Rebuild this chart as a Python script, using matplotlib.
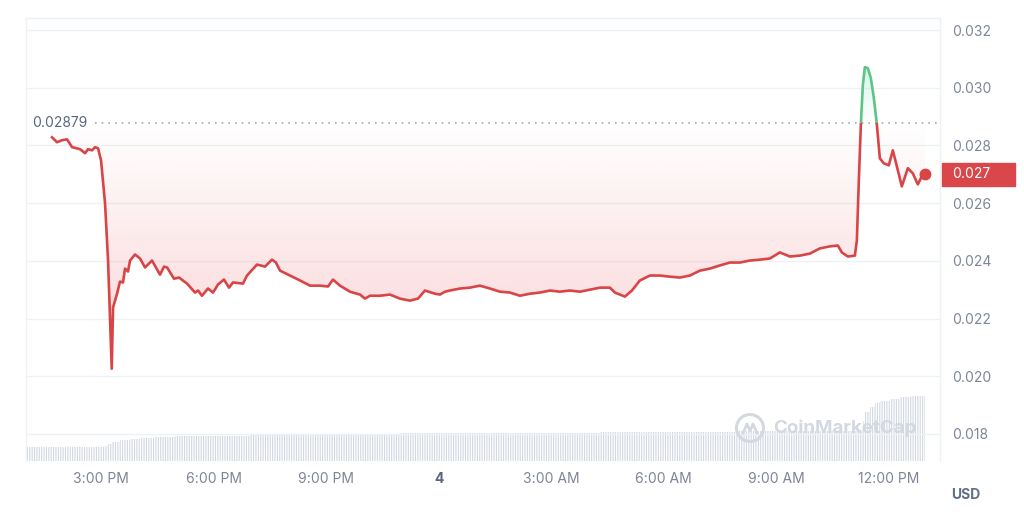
import numpy as np
import matplotlib
matplotlib.use("Agg")
import matplotlib.pyplot as plt
from matplotlib.path import Path
from matplotlib.patches import Rectangle, Ellipse
from matplotlib.lines import Line2D
import matplotlib.transforms as mtransforms

plt.rcParams['font.family'] = ['Inter', 'DejaVu Sans']
plt.rcParams['hatch.linewidth'] = 0.8

# ---- data (hours since 12:00 PM of day 3) ----
hours = [1.694, 1.828, 1.961, 2.094, 2.227, 2.440, 2.574, 2.654, 2.760, 2.840, 2.920,
         3.000, 3.107, 3.187, 3.240, 3.285, 3.320, 3.426, 3.506, 3.586, 3.639, 3.719,
         3.773, 3.906, 4.039, 4.172, 4.359, 4.572, 4.679, 4.759, 4.945, 5.078, 5.292,
         5.505, 5.585, 5.691, 5.851, 5.984, 6.118, 6.277, 6.411, 6.517, 6.784, 6.890,
         7.157, 7.370, 7.556, 7.663, 7.770, 8.036, 8.302, 8.569, 8.835, 9.049, 9.182,
         9.368, 9.635, 9.901, 10.034, 10.168, 10.434, 10.700, 10.967, 11.233, 11.447,
         11.633, 11.900, 12.033, 12.166, 12.299, 12.566, 12.832, 13.099, 13.365, 13.632,
         13.898, 14.164, 14.431, 14.697, 14.964, 15.230, 15.497, 15.763, 16.030, 16.296,
         16.562, 16.696, 16.962, 17.149, 17.362, 17.628, 17.895, 18.161, 18.428, 18.694,
         18.961, 19.227, 19.494, 19.760, 20.027, 20.293, 20.559, 20.826, 21.092, 21.359,
         21.625, 21.892, 22.158, 22.424, 22.638, 22.744, 22.904, 23.091, 23.144, 23.197,
         23.251, 23.304, 23.357, 23.437, 23.517, 23.597, 23.677, 23.757, 23.863, 23.996,
         24.103, 24.237, 24.343, 24.503, 24.636, 24.770, 24.876, 24.956]
prices = [0.02828, 0.02811, 0.02818, 0.02821, 0.02794, 0.02787, 0.02773, 0.02787, 0.02783,
          0.02794, 0.02790, 0.02748, 0.02599, 0.02401, 0.02193, 0.02026, 0.02238, 0.02286,
          0.02328, 0.02325, 0.02373, 0.02363, 0.02401, 0.02422, 0.02408, 0.02377, 0.02401,
          0.02352, 0.02380, 0.02377, 0.02338, 0.02342, 0.02321, 0.02290, 0.02297, 0.02279,
          0.02304, 0.02290, 0.02318, 0.02335, 0.02307, 0.02325, 0.02321, 0.02349, 0.02387,
          0.02380, 0.02404, 0.02394, 0.02366, 0.02349, 0.02332, 0.02314, 0.02314, 0.02311,
          0.02335, 0.02314, 0.02293, 0.02283, 0.02269, 0.02279, 0.02279, 0.02283, 0.02269,
          0.02262, 0.02269, 0.02297, 0.02286, 0.02283, 0.02293, 0.02297, 0.02304, 0.02307,
          0.02314, 0.02304, 0.02293, 0.02290, 0.02279, 0.02286, 0.02290, 0.02297, 0.02293,
          0.02297, 0.02293, 0.02300, 0.02307, 0.02307, 0.02290, 0.02276, 0.02297, 0.02332,
          0.02349, 0.02349, 0.02345, 0.02342, 0.02349, 0.02366, 0.02373, 0.02384, 0.02394,
          0.02394, 0.02401, 0.02404, 0.02408, 0.02429, 0.02415, 0.02418, 0.02425, 0.02443,
          0.02450, 0.02453, 0.02429, 0.02415, 0.02418, 0.02470, 0.02679, 0.02873, 0.03009,
          0.03071, 0.03068, 0.03033, 0.02964, 0.02873, 0.02755, 0.02738, 0.02731, 0.02783,
          0.02714, 0.02658, 0.02721, 0.02703, 0.02665, 0.02693, 0.02700]
baseline = 0.02879
baseline_label = "0.02879"
last_label = "0.027"

vol_hours = [1.0, 3.107, 3.187, 3.293, 3.506, 3.773, 4.039, 4.439, 4.972, 6.970, 8.302,
             10.967, 16.296, 20.0, 23.224, 23.30, 23.357, 23.49, 23.624, 23.757, 24.023,
             24.29, 24.6, 24.956]
vol_values = [14, 15, 17, 19, 21, 22, 23, 24, 25, 26, 27, 28, 29, 30, 31, 40, 49, 54, 58,
              60, 62, 64, 65, 65]

xtick_pos = [3, 6, 9, 12, 15, 18, 21, 24]
xtick_labels = ['3:00 PM', '6:00 PM', '9:00 PM', '4', '3:00 AM', '6:00 AM', '9:00 AM', '12:00 PM']
ytick_pos = [0.018, 0.020, 0.022, 0.024, 0.026, 0.028, 0.030, 0.032]

RED = '#d94446'
GREEN = '#5cc585'
GRID = '#eff2f5'
TXT = '#7d8597'

W, H = 1024, 530
fig = plt.figure(figsize=(W / 100, H / 100), dpi=100)
ax_pos = [26 / W, 1 - 461 / H, (940 - 26) / W, (461 - 18) / H]

# volume axes underneath
axv = fig.add_axes(ax_pos, zorder=0)
ax = fig.add_axes(ax_pos, zorder=1, sharex=axv)
ax.patch.set_visible(False)

axv.fill_between(vol_hours, vol_values, step='post', facecolor='white',
                 edgecolor='#d2d8e1', linewidth=0, hatch='|||||||')
axv.set_ylim(0, 443)
axv.set_xlim(1.0, 25.36)
axv.axis('off')

t = np.array(hours)
p = np.array(prices)
ylo, yhi = 0.017062, 0.032416
ax.set_xlim(1.0, 25.36)
ax.set_ylim(ylo, yhi)

# clip path polygon between line and baseline
verts = list(zip(t, p)) + [(t[-1], baseline), (t[0], baseline), (t[0], p[0])]
clip_path = Path(verts, closed=True)

n = 256
red_rgb = matplotlib.colors.to_rgb('#ea3943')
grad = np.zeros((n, 1, 4))
grad[..., 0], grad[..., 1], grad[..., 2] = red_rgb
grad[:, 0, 3] = np.linspace(0.22, 0.0, n)
im = ax.imshow(grad, extent=[t[0], t[-1], p.min(), baseline], origin='lower',
               aspect='auto', interpolation='bilinear', zorder=1)
im.set_clip_path(clip_path, transform=ax.transData)

green_rgb = matplotlib.colors.to_rgb('#16c784')
gg = np.zeros((n, 1, 4))
gg[..., 0], gg[..., 1], gg[..., 2] = green_rgb
gg[:, 0, 3] = np.linspace(0.0, 0.18, n)
im2 = ax.imshow(gg, extent=[t[0], t[-1], baseline, p.max()], origin='lower',
                aspect='auto', interpolation='bilinear', zorder=1)
im2.set_clip_path(clip_path, transform=ax.transData)
ax.set_xlim(1.0, 25.36)
ax.set_ylim(ylo, yhi)

# line, split colours at the baseline
lr, = ax.plot(t, p, color=RED, lw=1.9, zorder=3, solid_joinstyle='round')
lg, = ax.plot(t, p, color=GREEN, lw=1.9, zorder=3, solid_joinstyle='round')
rect_lo = Rectangle((0, ylo), 30, baseline - ylo, transform=ax.transData)
rect_hi = Rectangle((0, baseline), 30, yhi - baseline, transform=ax.transData)
lr.set_clip_path(rect_lo)
lg.set_clip_path(rect_hi)
ax.plot(t[-1], p[-1], 'o', color=RED, ms=7.5, zorder=4)

# baseline dotted line + label
ax.axhline(baseline, xmin=(95 - 26) / 914, color='#a3aab7', lw=1.2,
           linestyle=(0, (1, 3)), zorder=2)
ax.text((32 - 26) / 914, baseline, baseline_label,
        transform=mtransforms.blended_transform_factory(ax.transAxes, ax.transData),
        ha='left', va='center', fontsize=10, color='#58667e', zorder=5)

# axes styling
ax.set_yticks(ytick_pos)
ax.set_yticklabels([f'{v:.3f}' for v in ytick_pos])
ax.yaxis.tick_right()
ax.tick_params(axis='y', length=0, pad=9, labelsize=10, labelcolor=TXT)
ax.set_xticks(xtick_pos)
ax.set_xticklabels(xtick_labels)
ax.tick_params(axis='x', length=0, pad=8, labelsize=10, labelcolor=TXT)
for lab in ax.get_xticklabels():
    if lab.get_text() == '4':
        lab.set_fontweight('bold')
        lab.set_color('#58667e')
ax.grid(axis='y', color=GRID, lw=1, zorder=0)
ax.set_axisbelow(True)
for side in ['top', 'left', 'right']:
    ax.spines[side].set_color(GRID)
    ax.spines[side].set_linewidth(1)
ax.spines['bottom'].set_visible(False)

# last price tag
fig.canvas.draw()
y_disp = ax.transData.transform((t[-1], p[-1]))[1]
yf = y_disp / fig.bbox.height
fig.patches.append(Rectangle((942 / W, yf - 11.5 / H), 73 / W, 23 / H,
                             transform=fig.transFigure, color='#d9474a', zorder=5))
fig.text(952 / W, yf, last_label, color='white', fontsize=10, ha='left', va='center', zorder=6)

# USD label
fig.text(966 / W, 1 - 495 / H, 'USD', color='#616e85', fontsize=10, fontweight='bold',
         ha='center', va='center')

# watermark
wm = '#d3d8e1'
cx, cy = 750, 428
fig.patches.append(Ellipse((cx / W, 1 - cy / H), 27 / W, 27 / H, transform=fig.transFigure,
                           facecolor='none', edgecolor=wm, lw=2.2, zorder=2))
zx = [cx - 7, cx - 3, cx, cx + 3, cx + 7]
zy = [cy + 5, cy - 4, cy + 3, cy - 4, cy + 5]
fig.lines.append(Line2D([v / W for v in zx], [1 - v / H for v in zy], transform=fig.transFigure,
                        color=wm, lw=2.0, solid_joinstyle='round', zorder=2))
fig.text(845 / W, 1 - 428 / H, 'CoinMarketCap', color=wm, fontsize=13.5, fontweight='bold',
         ha='center', va='center', zorder=2)

fig.savefig('out.png', dpi=100)
